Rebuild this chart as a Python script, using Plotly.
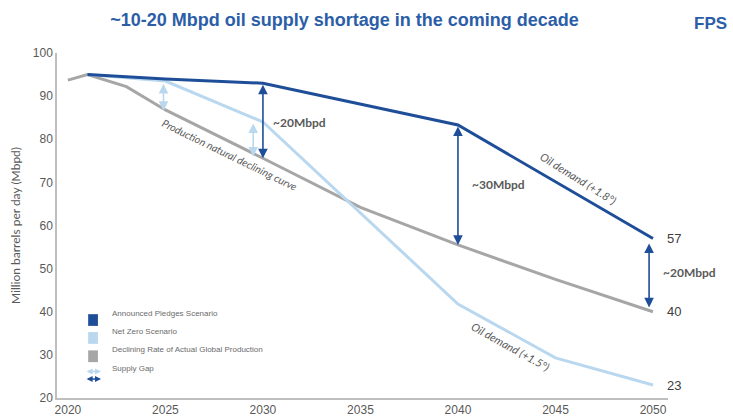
import plotly.graph_objects as go

# Scenario series (million barrels per day)
aps_years = [2021, 2025, 2030, 2040, 2050]
aps_values = [95, 94, 93, 83.3, 57]

nze_years = [2021, 2025, 2030, 2040, 2045, 2050]
nze_values = [95, 93.5, 84, 41.8, 29.3, 23]

prod_years = [2020, 2021, 2023, 2025, 2030, 2035, 2040, 2045, 2050]
prod_values = [93.7, 95, 92.2, 86.8, 75.6, 64.2, 55.5, 47.5, 40]

# Supply-gap arrows: (year, top, bottom)
gap_dark = [(2030, 93, 75.6), (2040, 83.3, 55.5), (2049.8, 56.2, 41)]
gap_light = [(2024.9, 93.2, 86.6), (2029.5, 84, 76)]
gap_labels = [(2030.4, 83.8, "~20Mbpd"), (2040.6, 69.4, "~30Mbpd"), (2050.4, 49, "~20Mbpd")]

end_labels = [(57, "57"), (40, "40"), (23, "23")]

legend_items = ["Announced Pledges Scenario", "Net Zero Scenario",
                "Declining Rate of Actual Global Production", "Supply Gap"]

DARK = "#1f4e99"
LIGHT = "#b9d8ef"
GRAY = "#a6a6a6"
TXT = "#595959"

fig = go.Figure()
fig.add_trace(go.Scatter(x=prod_years, y=prod_values, mode="lines",
                         line=dict(color=GRAY, width=3), showlegend=False))
fig.add_trace(go.Scatter(x=nze_years, y=nze_values, mode="lines",
                         line=dict(color=LIGHT, width=3), showlegend=False))
fig.add_trace(go.Scatter(x=aps_years, y=aps_values, mode="lines",
                         line=dict(color=DARK, width=3), showlegend=False))

ann = []
for yr, top, bot in gap_dark:
    ann.append(dict(x=yr, y=bot, ax=yr, ay=top, xref="x", yref="y", axref="x", ayref="y",
                    text="", showarrow=True, arrowhead=2, arrowsize=1.2, arrowwidth=1.6,
                    arrowside="end+start", arrowcolor=DARK))
for yr, top, bot in gap_light:
    ann.append(dict(x=yr, y=bot, ax=yr, ay=top, xref="x", yref="y", axref="x", ayref="y",
                    text="", showarrow=True, arrowhead=2, arrowsize=1.2, arrowwidth=1.6,
                    arrowside="end+start", arrowcolor=LIGHT))
for yr, val, txt in gap_labels:
    ann.append(dict(x=yr, y=val, xref="x", yref="y", text="<b>" + txt + "</b>", showarrow=False,
                    xanchor="left", font=dict(family="Lato", size=12, color=TXT)))
for val, txt in end_labels:
    ann.append(dict(x=2050.6, y=val, xref="x", yref="y", text=txt, showarrow=False,
                    xanchor="left", font=dict(family="Liberation Sans", size=13, color="#404040")))

# Curve captions
ann.append(dict(x=2028.3, y=76.3, xref="x", yref="y", text="<i>Production natural declining curve</i>",
                showarrow=False, textangle=26, font=dict(family="Lato", size=10.5, color=TXT)))
ann.append(dict(x=2046.2, y=71.0, xref="x", yref="y", text="<i>Oil demand (+1.8°)</i>",
                showarrow=False, textangle=32, font=dict(family="Lato", size=11, color=TXT)))
ann.append(dict(x=2042.7, y=32.0, xref="x", yref="y", text="<i>Oil demand (+1.5°)</i>",
                showarrow=False, textangle=29, font=dict(family="Lato", size=11, color=TXT)))

# Legend drawn inside the plot area
shapes = []
leg_y = [0.226, 0.174, 0.121]
leg_colors = [DARK, LIGHT, GRAY]
for yy, col in zip(leg_y, leg_colors):
    shapes.append(dict(type="rect", xref="x domain", yref="y domain",
                       x0=0.051, x1=0.067, y0=yy - 0.017, y1=yy + 0.017,
                       fillcolor=col, line=dict(width=0)))
for yy, txt in zip(leg_y + [0.066], legend_items):
    ann.append(dict(x=0.087, y=yy, xref="x domain", yref="y domain", text=txt, showarrow=False,
                    xanchor="left", font=dict(family="Liberation Sans", size=8, color="#6b6b6b")))
for dy, col in [(0.011, LIGHT), (-0.011, DARK)]:
    ann.append(dict(x=0.072, y=0.066 + dy, ax=0.046, ay=0.066 + dy, xref="x domain", yref="y domain",
                    axref="x domain", ayref="y domain", text="", showarrow=True, arrowhead=2,
                    arrowsize=0.8, arrowwidth=1.5, arrowside="end+start", arrowcolor=col))

# Corner tag
ann.append(dict(x=1.039, y=1.12, xref="paper", yref="paper", text="<b>FPS</b>",
                showarrow=False, xanchor="left",
                font=dict(family="Liberation Sans", size=17, color="#2b5ea7")))

fig.update_layout(
    width=733, height=419,
    margin=dict(l=57, r=65, t=53, b=21, autoexpand=False),
    paper_bgcolor="white", plot_bgcolor="white",
    title=dict(text="<b>~10-20 Mbpd oil supply shortage in the coming decade</b>",
               x=0.47, xanchor="center", y=0.952, yanchor="middle",
               font=dict(family="Liberation Sans", size=18, color="#2b5ea7")),
    xaxis=dict(range=[2019.44, 2050.77], tickvals=[2020, 2025, 2030, 2035, 2040, 2045, 2050],
               showgrid=False, zeroline=False, showline=True, linecolor="#bfbfbf", linewidth=1.5,
               ticks="", automargin=False, tickfont=dict(family="Liberation Sans", size=12, color=TXT)),
    yaxis=dict(range=[20, 100], tickvals=list(range(20, 101, 10)),
               showgrid=False, zeroline=False, showline=True, linecolor="#bfbfbf", linewidth=1.5,
               ticks="", automargin=False, tickfont=dict(family="Liberation Sans", size=12, color=TXT),
               title=dict(text="Million barrels per day (Mbpd)", standoff=10,
                          font=dict(family="Lato", size=12, color=TXT))),
    annotations=ann,
    shapes=shapes,
    showlegend=False,
)

fig.write_html("out.html")
